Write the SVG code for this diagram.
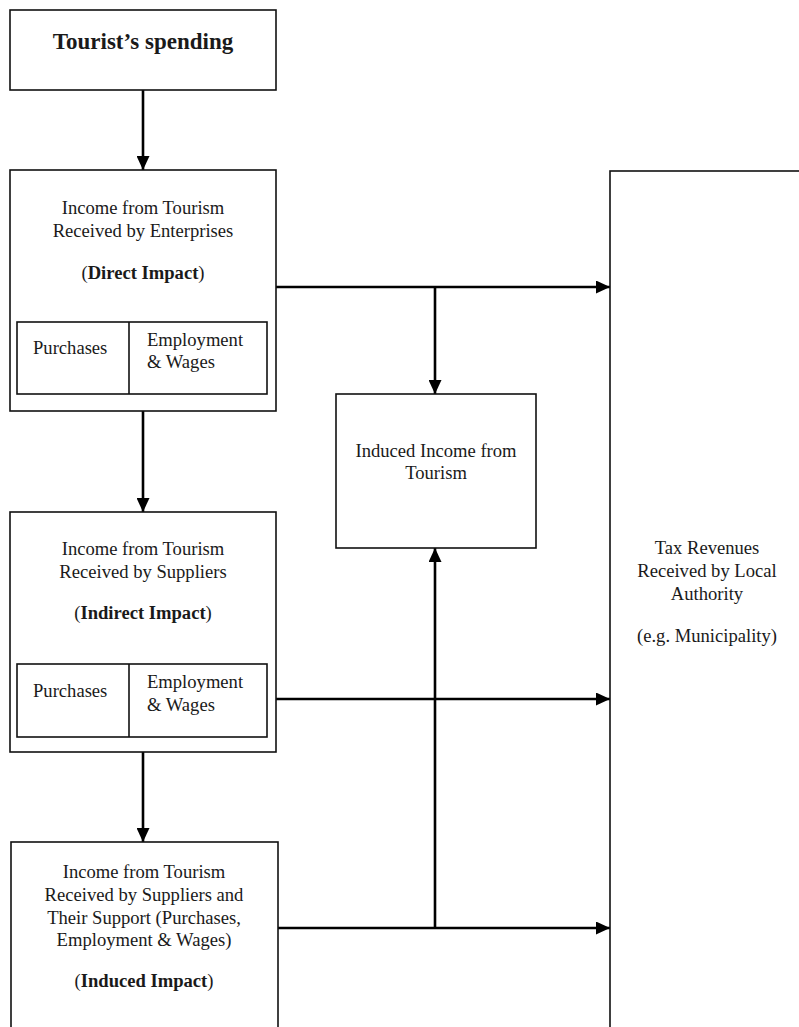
<svg xmlns="http://www.w3.org/2000/svg" width="799" height="1027" viewBox="0 0 799 1027">
<style>
.box{fill:#fff;stroke:#111;stroke-width:1.6}
.t{font-family:"Liberation Serif","Times New Roman",serif;font-size:18.6px;fill:#1a1a1a;text-anchor:middle}
.tl{font-family:"Liberation Serif","Times New Roman",serif;font-size:18.6px;fill:#1a1a1a}
.b{font-weight:bold}
.c{fill:none;stroke:#000;stroke-width:2.6}
</style>
<defs>
<marker id="ah" markerUnits="userSpaceOnUse" markerWidth="15" markerHeight="13" refX="14" refY="6.5" orient="auto">
<path d="M0,0 L14,6.5 L0,13 z" fill="#000"/>
</marker>
</defs>
<rect x="0" y="0" width="799" height="1027" fill="#fff"/>
<g id="connectors">
<line class="c" x1="143" y1="90" x2="143" y2="170" marker-end="url(#ah)"/>
<line class="c" x1="143" y1="411" x2="143" y2="512" marker-end="url(#ah)"/>
<line class="c" x1="143" y1="752" x2="143" y2="842" marker-end="url(#ah)"/>
<line class="c" x1="276" y1="287" x2="610" y2="287" marker-end="url(#ah)"/>
<line class="c" x1="435" y1="287" x2="435" y2="394" marker-end="url(#ah)"/>
<line class="c" x1="276" y1="699" x2="610" y2="699" marker-end="url(#ah)"/>
<line class="c" x1="278" y1="928" x2="610" y2="928" marker-end="url(#ah)"/>
<line class="c" x1="435" y1="929" x2="435" y2="548" marker-end="url(#ah)"/>
</g>
<g id="tourist-spending">
<rect class="box" x="10" y="10" width="266" height="80"/>
<text class="t b" x="143" y="49" style="font-size:23px">Tourist’s spending</text>
</g>
<g id="direct-impact">
<rect class="box" x="10" y="170" width="266" height="241"/>
<text class="t" x="143" y="214">Income from Tourism</text>
<text class="t" x="143" y="237">Received by Enterprises</text>
<text class="t" x="143" y="279"><tspan>(</tspan><tspan class="b">Direct Impact</tspan><tspan>)</tspan></text>
<rect class="box" x="17" y="322" width="250" height="72"/>
<line x1="129" y1="322" x2="129" y2="394" stroke="#111" stroke-width="1.6"/>
<text class="tl" x="33" y="354">Purchases</text>
<text class="tl" x="147" y="346">Employment</text>
<text class="tl" x="147" y="368">&amp; Wages</text>
</g>
<g id="indirect-impact">
<rect class="box" x="10" y="512" width="266" height="240"/>
<text class="t" x="143" y="555">Income from Tourism</text>
<text class="t" x="143" y="578">Received by Suppliers</text>
<text class="t" x="143" y="619"><tspan>(</tspan><tspan class="b">Indirect Impact</tspan><tspan>)</tspan></text>
<rect class="box" x="17" y="664" width="250" height="73"/>
<line x1="129" y1="664" x2="129" y2="737" stroke="#111" stroke-width="1.6"/>
<text class="tl" x="33" y="697">Purchases</text>
<text class="tl" x="147" y="688">Employment</text>
<text class="tl" x="147" y="711">&amp; Wages</text>
</g>
<g id="induced-impact">
<rect class="box" x="11" y="842" width="267" height="200"/>
<text class="t" x="144" y="878">Income from Tourism</text>
<text class="t" x="144" y="901">Received by Suppliers and</text>
<text class="t" x="144" y="924">Their Support (Purchases,</text>
<text class="t" x="144" y="946">Employment &amp; Wages)</text>
<text class="t" x="144" y="987"><tspan>(</tspan><tspan class="b">Induced Impact</tspan><tspan>)</tspan></text>
</g>
<g id="induced-income">
<rect class="box" x="336" y="394" width="200" height="154"/>
<text class="t" x="436" y="457">Induced Income from</text>
<text class="t" x="436" y="479">Tourism</text>
</g>
<g id="tax-revenues">
<rect class="box" x="610" y="171" width="200" height="880"/>
<text class="t" x="707" y="554">Tax Revenues</text>
<text class="t" x="707" y="577">Received by Local</text>
<text class="t" x="707" y="600">Authority</text>
<text class="t" x="707" y="642">(e.g. Municipality)</text>
</g>
</svg>
